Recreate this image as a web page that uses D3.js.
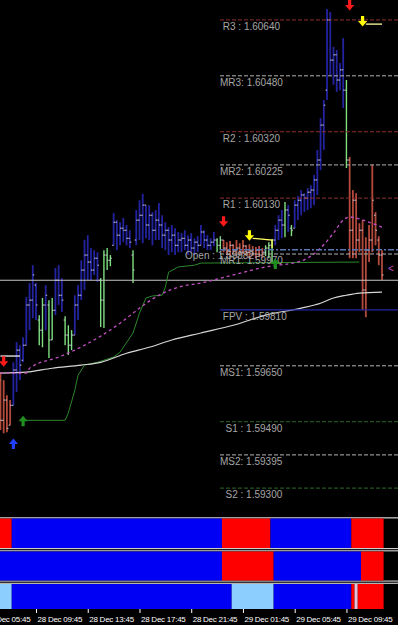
<!DOCTYPE html>
<html>
<head>
<meta charset="utf-8">
<script src="https://cdn.jsdelivr.net/npm/d3@7"></script>
<style>
  body { margin: 0; background: #000; }
  svg { display: block; }
</style>
</head>
<body>
<div class="chart"></div>
<script>
// ---- data ----

// bar colour state per 15 min bar: b = blue, g = green, r = red
const barState = ("rrrrbbbbbb" + "bbggbggbbb" + "gggbbbbbbb" + "bggggbbbbb" + "bgbbbbbbbb" +
                  "bbbbbbbbbb" + "bbbbbbbggr" + "rrrrrrrrrr" + "rrgggbbbgb" + "gbbbbbbbbb" +
                  "bbbbbbbgrr" + "rrrrrrrrr").split("");

const barHigh = [
  1.59632, 1.59609, 1.59566, 1.59552, 1.59660, 1.59718, 1.59709, 1.59732, 1.59847, 1.59887,
  1.59938, 1.59887, 1.59795, 1.59844, 1.59881, 1.59838, 1.59844, 1.59930, 1.59938, 1.59901,
  1.59792, 1.59766, 1.59752, 1.59852, 1.59881, 1.59952, 1.60010, 1.60024, 1.59987, 1.59981,
  1.59975, 1.59901, 1.59981, 1.59987, 1.59967, 1.60087, 1.60067, 1.60061, 1.60073, 1.60053,
  1.60038, 1.59981, 1.60096, 1.60124, 1.60142, 1.60110, 1.60110, 1.60090, 1.60096, 1.60116,
  1.60081, 1.60061, 1.60047, 1.60053, 1.60044, 1.60033, 1.60030, 1.60038, 1.60024, 1.60030,
  1.60015, 1.60021, 1.60053, 1.60038, 1.60024, 1.60015, 1.60033, 1.60015, 1.60021, 1.60010,
  1.60004, 1.60007, 1.59998, 1.60010, 1.60001, 1.60010, 1.59995, 1.59998, 1.59993, 1.59990,
  1.59993, 1.59987, 1.59995, 1.60004, 1.60013, 1.60053, 1.60081, 1.60096, 1.60119, 1.60110,
  1.60053, 1.60124, 1.60136, 1.60153, 1.60144, 1.60159, 1.60167, 1.60196, 1.60268, 1.60359,
  1.60411, 1.60671, 1.60663, 1.60563, 1.60554, 1.60517, 1.60588, 1.60468, 1.60248, 1.60153,
  1.60144, 1.60058, 1.60067, 1.60018, 1.60053, 1.60225, 1.60090, 1.60021, 1.59981
];
const barLow = [
  1.59466, 1.59457, 1.59460, 1.59480, 1.59537, 1.59575, 1.59609, 1.59660, 1.59709, 1.59752,
  1.59786, 1.59781, 1.59709, 1.59703, 1.59752, 1.59672, 1.59724, 1.59795, 1.59824, 1.59804,
  1.59709, 1.59681, 1.59695, 1.59738, 1.59781, 1.59838, 1.59867, 1.59895, 1.59895, 1.59910,
  1.59890, 1.59761, 1.59758, 1.59924, 1.59935, 1.59995, 1.59981, 1.59995, 1.60004, 1.59995,
  1.59987, 1.59887, 1.59995, 1.60010, 1.60001, 1.60015, 1.60010, 1.59995, 1.60010, 1.60010,
  1.59987, 1.59981, 1.59967, 1.59975, 1.59967, 1.59975, 1.59975, 1.59981, 1.59967, 1.59975,
  1.59967, 1.59975, 1.59995, 1.59987, 1.59981, 1.59981, 1.59993, 1.59975, 1.59981, 1.59975,
  1.59967, 1.59964, 1.59970, 1.59964, 1.59967, 1.59970, 1.59964, 1.59958, 1.59964, 1.59958,
  1.59961, 1.59958, 1.59964, 1.59958, 1.59944, 1.59995, 1.60010, 1.60015, 1.60018, 1.60033,
  1.60021, 1.60044, 1.60067, 1.60081, 1.60090, 1.60096, 1.60101, 1.60110, 1.60139, 1.60210,
  1.60268, 1.60411, 1.60482, 1.60454, 1.60434, 1.60439, 1.60388, 1.60216, 1.59958, 1.59958,
  1.59958, 1.59975, 1.59809, 1.59789, 1.59947, 1.59975, 1.59995, 1.59938, 1.59895
];
const barOpen = [
  1.59609, 1.59494, 1.59552, 1.59480, 1.59537, 1.59638, 1.59695, 1.59666, 1.59709, 1.59824,
  1.59838, 1.59881, 1.59781, 1.59752, 1.59824, 1.59824, 1.59724, 1.59809, 1.59895, 1.59852,
  1.59781, 1.59738, 1.59709, 1.59738, 1.59824, 1.59852, 1.59924, 1.59967, 1.59947, 1.59924,
  1.59958, 1.59895, 1.59838, 1.59967, 1.59952, 1.59995, 1.60061, 1.60024, 1.60044, 1.60038,
  1.60015, 1.59967, 1.60010, 1.60067, 1.60081, 1.60110, 1.60053, 1.60081, 1.60038, 1.60067,
  1.60053, 1.60024, 1.60038, 1.60010, 1.60024, 1.59995, 1.60010, 1.60015, 1.59995, 1.60010,
  1.59987, 1.60004, 1.59995, 1.60033, 1.60010, 1.59995, 1.60004, 1.60010, 1.59995, 1.60010,
  1.59987, 1.59981, 1.59995, 1.59981, 1.59987, 1.59975, 1.59993, 1.59975, 1.59981, 1.59970,
  1.59981, 1.59967, 1.59975, 1.59987, 1.59995, 1.60010, 1.60038, 1.60067, 1.60053, 1.60096,
  1.60044, 1.60044, 1.60110, 1.60124, 1.60139, 1.60130, 1.60147, 1.60153, 1.60182, 1.60239,
  1.60339, 1.60439, 1.60640, 1.60525, 1.60540, 1.60468, 1.60497, 1.60439, 1.60239, 1.60038,
  1.60124, 1.60010, 1.60038, 1.59867, 1.59981, 1.60010, 1.60081, 1.60010, 1.59967
];
const barClose = [
  1.59494, 1.59552, 1.59471, 1.59537, 1.59638, 1.59695, 1.59652, 1.59709, 1.59824, 1.59838,
  1.59910, 1.59824, 1.59752, 1.59824, 1.59852, 1.59724, 1.59809, 1.59895, 1.59852, 1.59838,
  1.59738, 1.59709, 1.59738, 1.59824, 1.59852, 1.59924, 1.59967, 1.59947, 1.59924, 1.59958,
  1.59938, 1.59838, 1.59967, 1.59952, 1.59958, 1.60061, 1.60024, 1.60044, 1.60038, 1.60015,
  1.60004, 1.59924, 1.60067, 1.60081, 1.60110, 1.60053, 1.60081, 1.60038, 1.60067, 1.60053,
  1.60024, 1.60038, 1.60010, 1.60024, 1.59995, 1.60010, 1.60015, 1.59995, 1.60010, 1.59987,
  1.60004, 1.59995, 1.60033, 1.60010, 1.59995, 1.60004, 1.60010, 1.59995, 1.60010, 1.59987,
  1.59981, 1.59995, 1.59981, 1.59987, 1.59975, 1.59993, 1.59975, 1.59981, 1.59970, 1.59981,
  1.59967, 1.59975, 1.59987, 1.59995, 1.60010, 1.60038, 1.60067, 1.60053, 1.60096, 1.60081,
  1.60038, 1.60110, 1.60124, 1.60139, 1.60130, 1.60147, 1.60153, 1.60182, 1.60239, 1.60339,
  1.60396, 1.60640, 1.60525, 1.60540, 1.60468, 1.60497, 1.60439, 1.60239, 1.60038, 1.60124,
  1.60010, 1.60038, 1.59867, 1.59981, 1.60010, 1.60124, 1.60038, 1.59967, 1.59910
];

// pivot levels drawn on the right
const levelNames  = ["R3", "MR3", "R2", "MR2", "R1", "MR1", "FPV", "MS1", "S1", "MS2", "S2"];
const levelPrices = [1.60640, 1.60480, 1.60320, 1.60225, 1.60130, 1.59970, 1.59810, 1.59650, 1.59490, 1.59395, 1.59300];
const levelKinds  = ["r", "m", "r", "m", "r", "m", "p", "m", "s", "m", "s"];
const openPrice = 1.59982;
const grayLinePrice = 1.59895;

// indicator lines: [bar, price]
const pinkMaBars   = [0, 8, 9, 18, 23, 31, 37, 43, 49, 55, 62, 72, 82, 93, 99, 103, 106, 108, 113, 118];
const pinkMaValues = [1.59629, 1.59629, 1.59643, 1.59675, 1.59695, 1.59735, 1.59772, 1.59815, 1.59852, 1.59875,
                      1.59887, 1.59910, 1.59933, 1.59950, 1.59987, 1.60030, 1.60067, 1.60076, 1.60064, 1.60047];
const whiteMaBars   = [0, 8, 16, 25, 31, 39, 46, 53, 62, 72, 82, 93, 99, 103, 107, 111, 118];
const whiteMaValues = [1.59629, 1.59632, 1.59643, 1.59652, 1.59660, 1.59686, 1.59703, 1.59724, 1.59744, 1.59766,
                       1.59795, 1.59815, 1.59829, 1.59844, 1.59852, 1.59858, 1.59861];
const stopBars   = [7, 20, 21, 23, 24, 26, 30, 35, 37, 41, 43, 45, 47, 50, 51, 52, 55, 60, 62, 111];
const stopValues = [1.59494, 1.59494, 1.59515, 1.59580, 1.59623, 1.59652, 1.59660, 1.59675, 1.59689, 1.59744,
                    1.59801, 1.59844, 1.59850, 1.59852, 1.59875, 1.59918, 1.59933, 1.59938, 1.59944, 1.59947];

// signal arrows
const arrowBars   = [1, 4, 7, 69, 77, 85, 108, 112];
const arrowPrices = [1.59660, 1.59429, 1.59494, 1.60061, 1.60021, 1.59944, 1.60680, 1.60634];
const arrowKinds  = ["redDown", "blueUp", "greenUp", "redDown", "yellowDown", "greenUp", "redDown", "yellowDown"];

// short signal lines next to the arrows
const signalLines = [
  { colour: "#f4f4f4", bars: [0, 6],        prices: [1.59678, 1.59678] },
  { colour: "#ffff60", bars: [78, 84, 84],  prices: [1.60015, 1.60010, 1.59987] },
  { colour: "#ffffa0", bars: [113, 118],    prices: [1.60628, 1.60628] }
];

// three trend strips at the bottom: [fromBar, toBar, state]
const strip1 = [[0, 3, "red"], [4, 68, "blue"], [69, 83, "red"], [84, 108, "blue"], [109, 118, "red"]];
const strip2 = [[0, 68, "blue"], [69, 84, "red"], [85, 111, "blue"], [112, 118, "red"]];
const strip3 = [[0, 3, "light"], [4, 71, "blue"], [72, 84, "light"], [85, 108, "blue"],
                [109, 109, "red"], [110, 110, "pink"], [111, 118, "red"]];

// time axis
const tickBars   = [-5, 11, 27, 43, 59, 75, 91, 107];
const tickLabels = ["28 Dec 05:45", "28 Dec 09:45", "28 Dec 13:45", "28 Dec 17:45",
                    "28 Dec 21:45", "29 Dec 01:45", "29 Dec 05:45", "29 Dec 09:45"];

// ---- drawing ----
const W = 398, H = 625;
const svg = d3.select(".chart")
  .append("svg")
  .attr("width", W)
  .attr("height", H)
  .style("background", "#000");

const x = d3.scaleLinear().domain([0, 118]).range([0.44, 382.0]);     // bar index -> pixel
const y = d3.scaleLinear().domain([1.59223, 1.60697]).range([515, 0]); // price -> pixel
const step = x(1) - x(0);

svg.append("clipPath").attr("id", "plotclip")
  .append("rect").attr("width", W).attr("height", 515);
const plot = svg.append("g").attr("clip-path", "url(#plotclip)");

const barColours = { b: "#2323a0", g: "#7ee07e", r: "#b44a3c" };

// price bars
const bars = barState.map((s, i) => ({ i, s, h: barHigh[i], l: barLow[i], o: barOpen[i], c: barClose[i] }));

plot.selectAll("line.bar")
  .data(bars)
  .join("line")
    .attr("class", "bar")
    .attr("x1", d => x(d.i)).attr("x2", d => x(d.i))
    .attr("y1", d => y(d.h)).attr("y2", d => y(d.l))
    .attr("stroke", d => barColours[d.s])
    .attr("stroke-width", d => d.s === "g" ? 1.4 : 1.8);

// open / close ticks as pale dots
plot.selectAll("rect.open")
  .data(bars)
  .join("rect")
    .attr("class", "open")
    .attr("x", d => x(d.i) - 1.5).attr("y", d => y(d.o) - 0.5)
    .attr("width", 1.5).attr("height", 1)
    .attr("fill", "#c8c8d8");
plot.selectAll("rect.close")
  .data(bars)
  .join("rect")
    .attr("class", "close")
    .attr("x", d => x(d.i)).attr("y", d => y(d.c) - 0.5)
    .attr("width", 1.5).attr("height", 1)
    .attr("fill", "#c8c8d8");

// full width gray line
plot.append("line")
  .attr("x1", 0).attr("x2", W)
  .attr("y1", y(grayLinePrice)).attr("y2", y(grayLinePrice))
  .attr("stroke", "#c4c4c4").attr("stroke-width", 1.1);

const line = d3.line().x(d => x(d[0])).y(d => y(d[1]));

// trailing stop (dark green)
plot.append("path")
  .attr("d", line(stopBars.map((b, k) => [b, stopValues[k]])))
  .attr("fill", "none").attr("stroke", "#2c872c").attr("stroke-width", 1);

// white moving average
plot.append("path")
  .attr("d", line.curve(d3.curveMonotoneX)(whiteMaBars.map((b, k) => [b, whiteMaValues[k]])))
  .attr("fill", "none").attr("stroke", "#d6d6d6").attr("stroke-width", 1.2);

// pink dashed moving average
plot.append("path")
  .attr("d", line.curve(d3.curveMonotoneX)(pinkMaBars.map((b, k) => [b, pinkMaValues[k]])))
  .attr("fill", "none").attr("stroke", "#c24ec2").attr("stroke-width", 1.3)
  .attr("stroke-dasharray", "3,3");

// pivot level lines
const levelStyle = {
  r: { stroke: "#8e2e2e", dash: "4,2" },
  m: { stroke: "#b4b4b4", dash: "4,2" },
  s: { stroke: "#2a6a2a", dash: "4,2" },
  p: { stroke: "#2424a0", dash: null }
};
const levels = levelNames.map((n, k) => ({ n, p: levelPrices[k], kind: levelKinds[k] }));

plot.selectAll("line.level")
  .data(levels)
  .join("line")
    .attr("class", "level")
    .attr("x1", 220).attr("x2", W)
    .attr("y1", d => y(d.p)).attr("y2", d => y(d.p))
    .attr("stroke", d => levelStyle[d.kind].stroke)
    .attr("stroke-width", d => d.kind === "p" ? 1.4 : 1)
    .attr("stroke-dasharray", d => levelStyle[d.kind].dash);

// day open line (dash dot)
plot.append("line")
  .attr("x1", 220).attr("x2", W)
  .attr("y1", y(openPrice)).attr("y2", y(openPrice))
  .attr("stroke", "#5a78b4").attr("stroke-width", 1.4)
  .attr("stroke-dasharray", "6,2,2,2");

// short signal lines
signalLines.forEach(sl => {
  plot.append("path")
    .attr("d", d3.line().x(d => x(d[0])).y(d => y(d[1]))(sl.bars.map((b, k) => [b, sl.prices[k]])))
    .attr("fill", "none").attr("stroke", sl.colour).attr("stroke-width", 1.3);
});

// level labels
const fmt = d3.format(".5f");
const prefix = d => d.kind === "m" ? d.n + ": " : (d.kind === "s" ? "  " : " ") + d.n + " : ";
plot.selectAll("text.level")
  .data(levels)
  .join("text")
    .attr("class", "level")
    .attr("x", 220)
    .attr("y", d => y(d.p) + 10)
    .style("white-space", "pre")
    .attr("font-family", "Liberation Sans, Arial, sans-serif")
    .attr("font-size", 10)
    .attr("fill", "#a6a6a6")
    .text(d => prefix(d) + fmt(d.p));

plot.append("text")
  .attr("x", 185).attr("y", y(openPrice) + 9)
  .attr("font-family", "Liberation Sans, Arial, sans-serif")
  .attr("font-size", 10).attr("fill", "#a6a6a6")
  .text("Open : " + fmt(openPrice));

plot.append("text")
  .attr("x", 388).attr("y", 272)
  .attr("font-family", "Liberation Sans, Arial, sans-serif")
  .attr("font-size", 10).attr("fill", "#c24ec2")
  .text("<");

// arrows
const arrowColour = { redDown: "#ff1a1a", blueUp: "#2040ff", greenUp: "#1f8f1f", yellowDown: "#ffff00" };
const downArrow = "M-1.6,-6 L1.6,-6 L1.6,-1 L4.6,-1 L0,4.5 L-4.6,-1 L-1.6,-1 Z";
plot.selectAll("path.arrow")
  .data(arrowBars.map((b, k) => ({ b, p: arrowPrices[k], kind: arrowKinds[k] })))
  .join("path")
    .attr("class", "arrow")
    .attr("d", downArrow)
    .attr("transform", d => `translate(${x(d.b)},${y(d.p)}) scale(1,${d.kind.endsWith("Up") ? -1 : 1})`)
    .attr("fill", d => arrowColour[d.kind]);

// ---- bottom strips ----
const stripColours = { red: "#ff0000", blue: "#0000f4", light: "#8ccfff", pink: "#e2c0dc" };
const strips = [
  { data: strip1, y0: 518.5, y1: 548 },
  { data: strip2, y0: 551.5, y1: 580.5 },
  { data: strip3, y0: 584, y1: 609 }
];

svg.append("rect").attr("x", 0).attr("y", 517).attr("width", W).attr("height", 1.6).attr("fill", "#a0a0a0");
[548.2, 550.4, 580.6, 582.8].forEach(v => {
  svg.append("rect").attr("x", 0).attr("y", v).attr("width", W).attr("height", 0.9).attr("fill", "#ffffff");
});

strips.forEach(st => {
  svg.append("g").selectAll("rect")
    .data(st.data)
    .join("rect")
      .attr("x", d => x(d[0]) - step / 2)
      .attr("width", d => x(d[1]) - x(d[0]) + step)
      .attr("y", st.y0)
      .attr("height", st.y1 - st.y0)
      .attr("fill", d => stripColours[d[2]]);
});

// time axis
const axis = d3.axisBottom(x)
  .tickValues(tickBars)
  .tickFormat((d, k) => tickLabels[k])
  .tickSize(4);

const gx = svg.append("g")
  .attr("transform", "translate(0,609)")
  .call(axis);
gx.select(".domain").remove();
gx.selectAll(".tick line").attr("stroke", "#ffffff");
gx.selectAll(".tick text")
  .attr("text-anchor", "start")
  .attr("x", 1)
  .attr("fill", "#ffffff")
  .attr("font-family", "Liberation Sans, Arial, sans-serif")
  .attr("font-size", 8)
  .attr("letter-spacing", "-0.25px");
</script>
</body>
</html>
